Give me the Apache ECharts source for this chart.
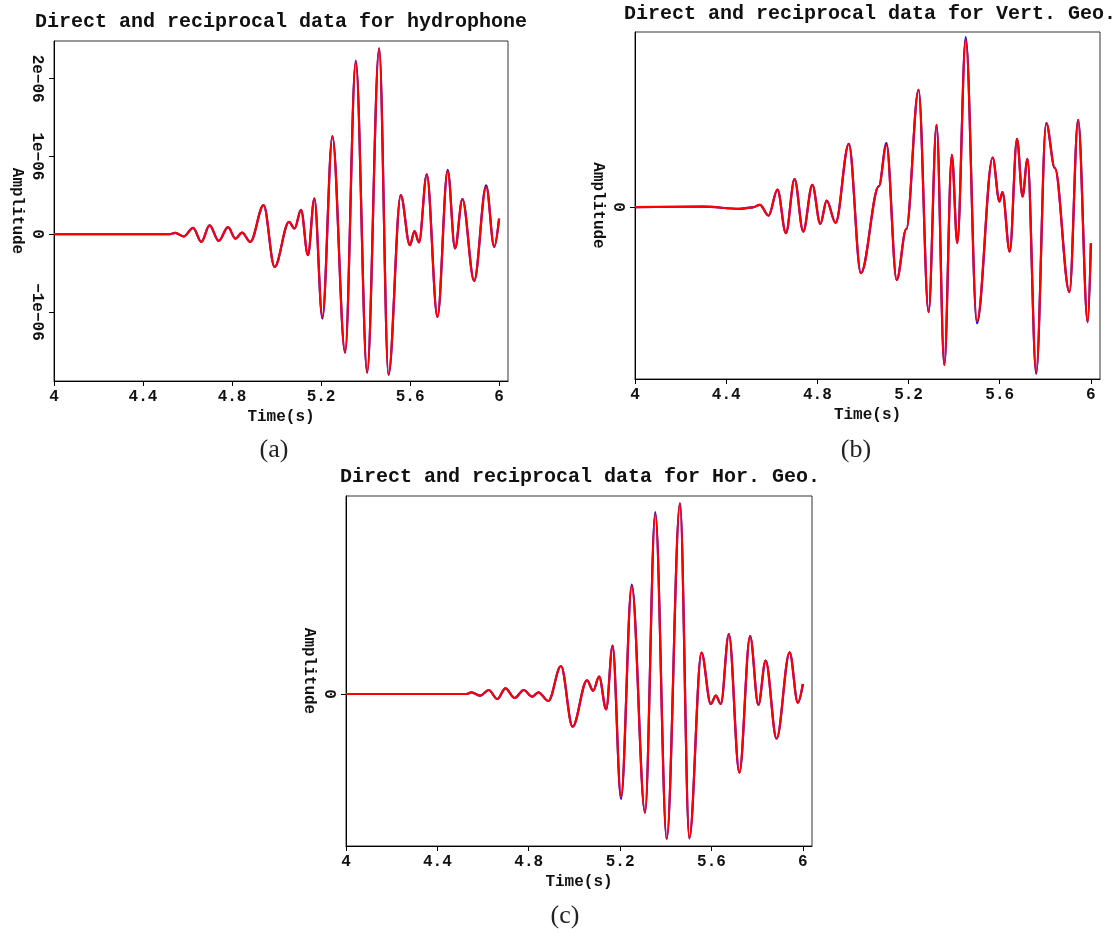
<!DOCTYPE html>
<html>
<head>
<meta charset="utf-8">
<title>Direct and reciprocal data</title>
<script src="https://cdn.jsdelivr.net/npm/echarts@6/dist/echarts.min.js"></script>
<style>
  html, body { margin: 0; padding: 0; background: #fff; }
  #chart { width: 1117px; height: 934px; }
</style>
</head>
<body>
<div id="chart"></div>
<script>
// (a) hydrophone, amplitude in units of 1e-06
const timeA = [4.0, 4.52, 4.545, 4.583, 4.625, 4.662, 4.699, 4.740, 4.782, 4.815, 4.845, 4.882, 4.942, 4.991, 5.056, 5.081, 5.110, 5.141, 5.170, 5.206, 5.251, 5.308, 5.356, 5.407, 5.461, 5.503, 5.558, 5.599, 5.620, 5.640, 5.675, 5.723, 5.769, 5.802, 5.835, 5.888, 5.942, 5.978, 6.0]
const directA = [0, 0, 0.017, -0.030, 0.081, -0.099, 0.112, -0.086, 0.090, -0.056, 0.021, -0.099, 0.373, -0.421, 0.159, 0.073, 0.313, -0.270, 0.459, -1.085, 1.262, -1.523, 2.232, -1.780, 2.390, -1.806, 0.502, -0.142, 0.039, -0.107, 0.768, -1.064, 0.826, -0.184, 0.450, -0.601, 0.628, -0.163, 0.200]
const reciprocalA = [0, 0, 0.017, -0.030, 0.081, -0.099, 0.112, -0.086, 0.090, -0.056, 0.021, -0.099, 0.373, -0.421, 0.159, 0.073, 0.313, -0.270, 0.459, -1.064, 1.252, -1.523, 2.218, -1.780, 2.390, -1.806, 0.502, -0.142, 0.039, -0.107, 0.768, -1.064, 0.811, -0.184, 0.450, -0.601, 0.609, -0.163, 0.200]

// (b) vertical geophone
const timeB = [4.0, 4.3, 4.458, 4.516, 4.548, 4.586, 4.625, 4.662, 4.700, 4.738, 4.778, 4.813, 4.841, 4.880, 4.938, 4.991, 5.070, 5.103, 5.148, 5.190, 5.244, 5.288, 5.323, 5.357, 5.390, 5.414, 5.451, 5.500, 5.569, 5.599, 5.612, 5.644, 5.676, 5.700, 5.722, 5.760, 5.804, 5.842, 5.906, 5.944, 5.986, 6.0]
const directB = [0, 0.005, -0.017, -0.003, 0.023, -0.084, 0.176, -0.260, 0.280, -0.244, 0.223, -0.167, 0.066, -0.157, 0.633, -0.660, 0.210, 0.640, -0.727, -0.220, 1.173, -1.050, 0.823, -1.577, 0.523, -0.360, 1.700, -1.160, 0.496, 0.056, 0.150, -0.444, 0.683, 0.106, 0.483, -1.665, 0.840, 0.390, -0.850, 0.873, -1.150, -0.360]
const reciprocalB = [0, 0.005, -0.017, -0.003, 0.023, -0.084, 0.176, -0.260, 0.280, -0.244, 0.223, -0.167, 0.066, -0.157, 0.633, -0.660, 0.210, 0.623, -0.727, -0.220, 1.173, -1.050, 0.823, -1.577, 0.523, -0.360, 1.673, -1.137, 0.496, 0.056, 0.150, -0.444, 0.683, 0.106, 0.483, -1.650, 0.840, 0.390, -0.850, 0.873, -1.150, -0.360]

// (c) horizontal geophone
const timeC = [4.0, 4.527, 4.549, 4.588, 4.625, 4.662, 4.698, 4.738, 4.778, 4.815, 4.842, 4.886, 4.941, 4.992, 5.055, 5.082, 5.108, 5.139, 5.167, 5.204, 5.251, 5.309, 5.354, 5.404, 5.462, 5.503, 5.556, 5.597, 5.619, 5.641, 5.676, 5.722, 5.769, 5.805, 5.837, 5.885, 5.942, 5.978, 6.0]
const directC = [0, 0, 0.017, -0.017, 0.040, -0.050, 0.057, -0.040, 0.040, -0.027, 0.017, -0.070, 0.280, -0.327, 0.137, 0.033, 0.173, -0.153, 0.483, -1.050, 1.095, -1.187, 1.820, -1.450, 1.907, -1.443, 0.413, -0.100, -0.017, -0.100, 0.600, -0.787, 0.580, -0.110, 0.333, -0.447, 0.417, -0.087, 0.100]
const reciprocalC = [0, 0, 0.017, -0.017, 0.040, -0.050, 0.057, -0.040, 0.040, -0.027, 0.017, -0.070, 0.280, -0.327, 0.137, 0.033, 0.173, -0.153, 0.483, -1.027, 1.080, -1.187, 1.800, -1.450, 1.907, -1.443, 0.413, -0.100, -0.017, -0.100, 0.600, -0.787, 0.580, -0.110, 0.333, -0.447, 0.417, -0.087, 0.100]

// tick labels
const timeTicks = [4, 4.4, 4.8, 5.2, 5.6, 6]
const ampTicksA = [-1, 0, 1, 2]
const ampTicksBC = [0]

const MONO = '"Liberation Mono", "DejaVu Sans Mono", monospace'
const SERIF = '"Liberation Serif", "DejaVu Serif", serif'

const chart = echarts.init(document.getElementById('chart'), null, { renderer: 'canvas' })

const axisText = { fontFamily: MONO, fontSize: 16, fontWeight: 'bold', color: '#111' }

function xAxisFor(gridIndex) {
  return {
    type: 'value',
    gridIndex,
    min: 4,
    max: 6.04,
    name: 'Time(s)',
    nameLocation: 'middle',
    nameGap: 28,
    nameTextStyle: axisText,
    axisLine: { show: true, onZero: false, lineStyle: { color: '#000', width: 1 } },
    axisTick: { show: true, length: 5, customValues: timeTicks, lineStyle: { color: '#000' } },
    axisLabel: Object.assign({
      customValues: timeTicks,
      margin: 8,
      formatter: v => String(+v.toFixed(1))
    }, axisText),
    splitLine: { show: false }
  }
}

function yAxisFor(gridIndex, min, max, ticks, fmt) {
  return {
    type: 'value',
    gridIndex,
    min,
    max,
    name: 'Amplitude',
    nameLocation: 'middle',
    nameRotate: -90,
    nameGap: 29,
    nameTextStyle: axisText,
    axisLine: { show: true, onZero: false, lineStyle: { color: '#000', width: 1 } },
    axisTick: { show: true, length: 5, customValues: ticks, lineStyle: { color: '#000' } },
    axisLabel: Object.assign({
      customValues: ticks,
      rotate: -90,
      margin: 9,
      formatter: fmt
    }, axisText),
    splitLine: { show: false }
  }
}

// 1e-06 style labels with a real minus sign
function sciLabel(v) {
  if (v === 0) return '0'
  return (v < 0 ? '\u2212' : '') + Math.abs(v) + 'e\u221206'
}

function trace(gridIndex, times, values, color, z) {
  return {
    type: 'line',
    xAxisIndex: gridIndex,
    yAxisIndex: gridIndex,
    data: times.map((t, i) => [t, values[i]]),
    smooth: 0.35,
    smoothMonotone: 'x',
    showSymbol: false,
    symbol: 'none',
    silent: true,
    z,
    lineStyle: { color, width: 2.2 }
  }
}

const titleStyle = { fontFamily: MONO, fontSize: 20, fontWeight: 'bold', color: '#111' }
const captionStyle = { fontFamily: SERIF, fontSize: 26, fontWeight: 'normal', color: '#222' }

chart.setOption({
  animation: false,
  backgroundColor: '#fff',
  title: [
    { text: 'Direct and reciprocal data for hydrophone', left: 281, top: 22, textAlign: 'center', textVerticalAlign: 'middle', padding: 0, textStyle: titleStyle },
    { text: 'Direct and reciprocal data for Vert. Geo.', left: 870, top: 14, textAlign: 'center', textVerticalAlign: 'middle', padding: 0, textStyle: titleStyle },
    { text: 'Direct and reciprocal data for Hor. Geo.', left: 580, top: 477, textAlign: 'center', textVerticalAlign: 'middle', padding: 0, textStyle: titleStyle },
    { text: '(a)', left: 274, top: 450, textAlign: 'center', textVerticalAlign: 'middle', padding: 0, textStyle: captionStyle },
    { text: '(b)', left: 856, top: 450, textAlign: 'center', textVerticalAlign: 'middle', padding: 0, textStyle: captionStyle },
    { text: '(c)', left: 565, top: 916, textAlign: 'center', textVerticalAlign: 'middle', padding: 0, textStyle: captionStyle }
  ],
  grid: [
    { left: 54, top: 41, width: 454, height: 340, show: true, borderColor: '#333', borderWidth: 1, outerBoundsMode: 'none' },
    { left: 635, top: 32, width: 465, height: 347, show: true, borderColor: '#333', borderWidth: 1, outerBoundsMode: 'none' },
    { left: 346, top: 496, width: 466, height: 350, show: true, borderColor: '#333', borderWidth: 1, outerBoundsMode: 'none' }
  ],
  xAxis: [xAxisFor(0), xAxisFor(1), xAxisFor(2)],
  yAxis: [
    yAxisFor(0, -1.888, 2.484, ampTicksA, sciLabel),
    yAxisFor(1, -1.717, 1.75, ampTicksBC, sciLabel),
    yAxisFor(2, -1.52, 1.98, ampTicksBC, sciLabel)
  ],
  series: [
    trace(0, timeA, directA, '#0000ff', 2),
    trace(0, timeA, reciprocalA, '#ff0000', 3),
    trace(1, timeB, directB, '#0000ff', 2),
    trace(1, timeB, reciprocalB, '#ff0000', 3),
    trace(2, timeC, directC, '#0000ff', 2),
    trace(2, timeC, reciprocalC, '#ff0000', 3)
  ]
})
</script>
</body>
</html>
